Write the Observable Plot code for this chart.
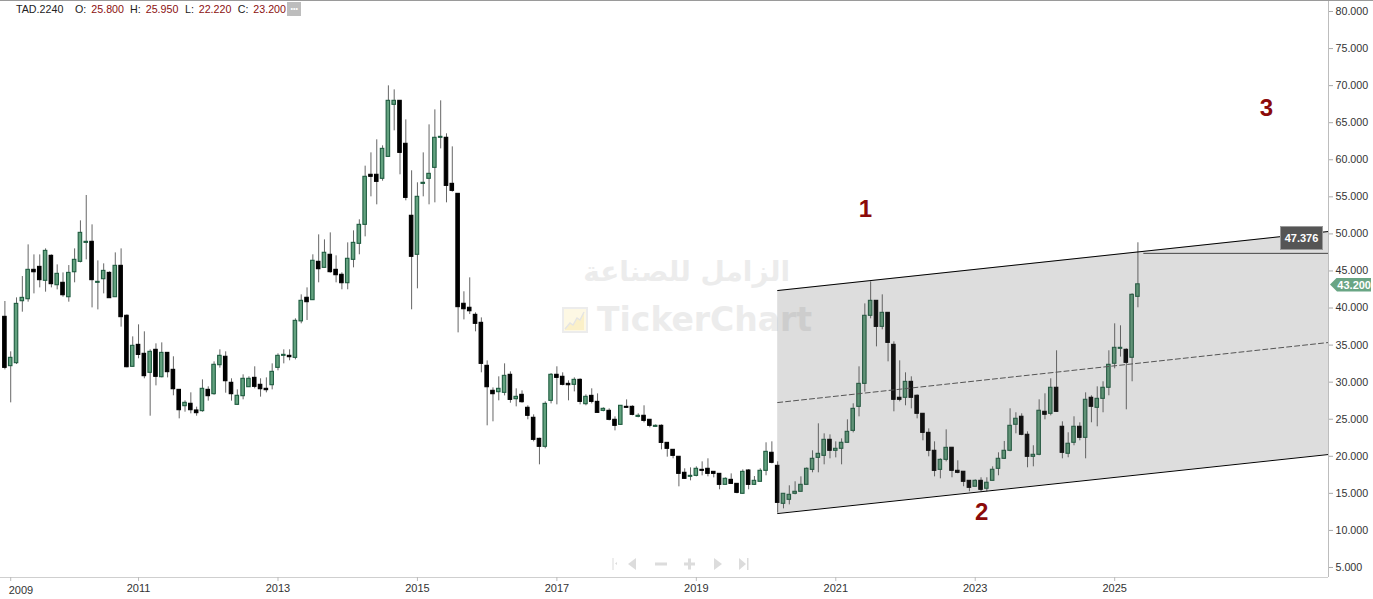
<!DOCTYPE html>
<html><head><meta charset="utf-8">
<script src="https://cdn.jsdelivr.net/npm/d3@7"></script>
<script src="https://cdn.jsdelivr.net/npm/@observablehq/plot@0.6"></script>
<style>
html,body{margin:0;padding:0;background:#fff;overflow:hidden;width:1373px;height:599px;font-family:"Liberation Sans",Arial,sans-serif}
#wrap{position:relative;width:1373px;height:599px}
#chart{position:absolute;left:0;top:0;z-index:1}
#chart svg{display:block;background:transparent;max-width:none}
.abs{position:absolute;white-space:nowrap}
.lg{top:3px;font-size:10.7px;line-height:12px;color:#222;z-index:2}
.lg.v{color:#8b1010}
.wm{color:#ececec;font-family:"DejaVu Sans",sans-serif;font-weight:700;z-index:0}
</style></head><body>
<div id="wrap">
<div class="abs" style="left:0;top:0;width:1373px;height:1px;background:#9a9a9a;z-index:3"></div>
<div class="abs wm" id="wmAr" style="left:585px;top:252px;width:205px;text-align:center;font-size:28px;line-height:40px;direction:rtl"></div>
<div class="abs wm" id="wmEn" style="left:597px;top:300px;font-size:33px;line-height:40px"></div>
<svg class="abs" style="left:562px;top:307px;z-index:0" width="26" height="26"><rect x="1" y="1" width="24" height="24" fill="#fdf8e4" stroke="#ececec" stroke-width="2"/><path d="M3 22L8 16L11 18L15 11L18 13L22 5L22 23L3 23Z" fill="#fbf0c8"/><path d="M3 22L8 16L11 18L15 11L18 13L22 5" fill="none" stroke="#e4e4e4" stroke-width="1.4"/></svg>
<svg class="abs" style="left:608px;top:556px;z-index:2" width="146" height="16">
<g fill="#dcdcdc"><rect x="4.5" y="2" width="1" height="12"/><path d="M7 7.5L9 6V9Z"/><path d="M20 8L28 2V14Z"/><rect x="47" y="6.5" width="12" height="3"/><rect x="76" y="6.5" width="11" height="3"/><rect x="80" y="2.5" width="3" height="11"/><path d="M106 2L114 8L106 14Z"/><path d="M131 2L138 8L131 14Z"/><rect x="139" y="2" width="1.5" height="12"/></g></svg>
<div id="chart"></div>
</div>
<script>
const opens=[38.81,32.16,32.56,40.92,41.19,45.15,45.55,43.67,47.04,43.08,
43.40,41.46,44.83,46.23,48.79,48.93,43.40,43.89,44.74,41.46,
45.69,38.95,32.07,35.03,33.82,31.26,34.36,30.67,33.95,31.66,
28.96,26.76,27.08,26.18,26.09,28.96,28.38,32.29,33.42,29.91,
26.94,28.11,29.32,30.58,29.64,29.10,29.59,31.93,33.55,33.55,
33.28,38.20,41.38,41.06,46.23,45.42,47.18,45.15,44.48,43.35,
46.50,48.66,51.22,57.97,57.97,57.43,60.39,67.41,67.95,62.15,
52.44,47.18,56.75,57.43,58.91,62.96,62.96,56.75,55.40,40.57,
40.03,39.08,38.00,32.20,28.83,28.65,28.56,30.99,27.70,28.29,
26.54,25.19,22.35,21.28,27.48,30.99,30.72,29.77,29.64,30.31,
27.03,28.15,27.34,26.13,26.13,24.92,24.24,26.67,26.67,25.32,
25.46,24.92,23.97,24.11,21.81,20.87,19.93,17.77,17.23,17.36,
18.17,18.31,17.90,17.63,16.15,16.82,16.28,14.94,18.08,16.15,
16.56,18.04,20.47,18.71,13.59,14.13,14.94,15.21,16.15,18.17,
19.79,20.06,22.22,20.74,21.01,21.82,23.43,26.67,29.77,38.95,
40.97,37.46,39.35,35.03,27.89,27.89,30.04,28.16,25.73,23.16,
20.74,18.17,19.52,21.15,18.04,17.91,16.69,15.89,16.69,15.62,
16.69,18.31,19.66,20.74,24.25,25.33,22.90,19.93,20.20,26.00,
25.73,29.24,23.98,20.34,21.82,23.98,22.49,27.89,26.54,27.75,
29.24,32.48,34.50,34.36,33.29,41.51];
const closes=[31.93,33.28,40.56,41.37,45.15,44.83,43.76,47.71,43.22,44.61,
41.73,44.74,46.50,50.14,48.93,43.76,43.53,45.01,41.33,45.69,
38.77,32.02,34.90,33.68,30.81,34.09,30.72,33.95,31.35,29.05,
26.22,27.21,26.22,25.82,29.10,28.11,32.34,33.55,30.13,28.38,
28.16,30.45,30.45,29.37,29.05,28.92,31.39,33.55,33.68,33.37,
38.27,40.97,40.79,46.37,45.24,47.45,44.84,44.43,43.35,46.64,
48.79,51.22,57.70,57.70,57.02,61.47,67.95,67.95,60.93,54.86,
46.91,55.00,56.89,58.10,62.96,63.09,56.48,55.81,40.12,39.84,
39.57,37.87,32.47,29.32,28.38,29.10,30.85,27.61,28.02,27.30,
25.46,22.22,21.28,27.07,30.99,30.58,29.64,29.59,30.31,27.34,
28.02,27.34,25.86,26.40,24.92,24.11,26.81,26.54,25.59,25.46,
24.78,24.11,24.11,21.81,21.01,20.06,17.63,16.96,17.36,18.31,
18.04,17.63,17.63,16.15,16.96,16.28,15.07,17.90,16.15,16.69,
18.04,20.60,19.12,13.72,14.94,14.80,15.21,16.15,18.31,19.66,
20.33,22.22,20.74,21.01,21.82,23.30,26.40,29.77,38.95,40.97,
37.46,39.35,35.30,27.62,27.62,30.04,27.89,25.73,23.16,20.74,
18.04,19.52,21.14,18.04,17.77,16.56,15.75,16.69,15.48,16.43,
18.18,19.66,20.74,24.11,25.06,22.90,19.93,20.20,26.14,25.60,
29.24,26.00,20.47,21.69,23.98,22.49,27.62,26.68,27.75,29.24,
32.34,34.63,34.63,32.61,41.78,43.20];
const highs=[40.88,34.09,41.37,44.25,48.52,47.17,47.17,47.98,47.17,45.82,
44.74,45.73,47.98,51.76,55.18,51.22,46.36,45.96,44.88,47.44,
47.98,39.08,36.11,37.73,36.79,34.36,35.17,35.30,33.95,33.42,
28.96,27.48,28.56,26.63,30.31,29.37,32.74,34.36,34.09,30.45,
28.96,30.99,30.72,32.07,30.45,30.58,32.47,33.82,34.36,34.36,
38.54,41.78,42.72,47.18,49.87,49.20,50.14,47.04,44.75,48.79,
50.41,51.90,59.14,60.93,62.69,61.88,69.97,69.43,67.95,65.38,
58.51,56.89,60.93,64.71,66.73,67.95,63.50,61.74,55.40,42.19,
44.07,39.35,38.67,32.87,29.23,30.72,32.47,31.39,29.10,28.83,
26.81,25.59,22.44,27.34,31.17,32.07,31.26,30.18,30.58,30.45,
28.29,29.10,28.42,26.54,26.40,25.32,26.81,27.61,26.81,25.73,
26.81,24.92,24.24,24.24,21.81,20.87,19.93,18.31,18.44,18.58,
19.25,19.66,17.90,17.63,17.09,17.63,16.28,18.17,18.20,17.27,
18.31,21.82,21.95,19.25,14.94,16.02,16.56,17.23,18.44,20.74,
24.38,23.03,22.89,21.95,22.35,24.92,27.08,32.07,40.56,43.53,
40.97,41.78,39.35,35.44,32.88,31.26,30.72,28.29,25.73,23.70,
21.95,19.66,23.57,21.15,19.39,17.91,16.69,16.83,17.10,17.10,
18.58,20.47,22.00,26.41,25.87,25.73,23.30,21.42,27.62,28.43,
30.45,34.23,24.65,23.17,25.33,24.52,28.56,28.16,29.37,30.05,
34.23,37.87,37.60,34.50,41.92,48.80];
const lows=[31.66,27.21,32.38,39.44,40.79,41.91,42.72,42.14,42.72,42.45,
41.46,40.79,43.40,46.09,46.50,40.02,39.75,41.91,41.33,41.46,
37.42,31.93,32.07,33.15,30.45,25.41,29.50,30.58,30.58,28.16,
25.05,25.95,25.73,25.41,25.95,27.44,28.24,31.89,28.51,27.44,
26.90,27.62,29.32,29.10,27.98,28.56,28.96,31.53,32.47,32.88,
33.01,37.87,38.32,41.02,43.40,45.42,44.70,43.40,42.46,42.46,
45.42,47.18,49.60,55.00,53.92,57.11,60.39,63.90,57.97,54.46,
39.76,42.59,55.00,53.92,54.19,61.47,54.19,55.63,36.65,38.40,
39.12,36.79,31.26,24.11,24.65,27.48,28.15,27.16,26.67,27.16,
24.92,21.95,18.85,21.01,27.07,26.94,29.50,27.48,28.69,26.94,
26.81,27.07,25.82,26.00,24.78,23.43,24.20,26.45,25.46,25.19,
24.51,23.84,23.88,20.87,19.88,19.66,15.88,16.87,16.69,17.23,
17.36,17.23,17.09,15.48,16.15,16.24,14.94,14.90,15.48,16.06,
16.56,17.37,18.98,12.33,12.91,13.45,14.80,15.21,16.15,17.77,
17.77,18.85,19.66,19.79,18.85,21.82,23.16,25.32,28.65,38.54,
34.76,37.06,32.74,26.00,27.35,26.81,26.40,25.05,22.09,19.93,
17.23,16.96,19.25,17.10,17.64,15.89,15.21,15.89,15.21,15.21,
16.69,17.37,19.57,20.61,23.03,22.77,18.45,18.58,20.07,24.92,
25.46,25.91,19.66,19.80,21.42,22.09,19.66,24.52,23.98,25.87,
28.16,31.80,33.38,26.27,30.05,40.03];

const channelX=[133,227.8];
const channelUpper=[42.36,50.32];
const channelMiddle=[27.25,35.35];
const channelLower=[12.28,20.24];
const levelX=[196,227.8];
const levelValue=47.376;
const lastClose=43.2;

const yTicks=[5,10,15,20,25,30,35,40,45,50,55,60,65,70,75,80];
const xTickIndex=[1,23,47,71,95,119,143,167,191];
const xTickLabels=["2009","2011","2013","2015","2017","2019","2021","2023","2025"];
const noteLabels=["1","2","3"];
const noteX=[148.1,168.1,217.1];
const noteY=[53.29,12.42,66.9];

const ticker="TAD.2240";
const legendItems=[["O:","25.800"],["H:","25.950"],["L:","22.220"],["C:","23.200"]];

const candles=opens.map((o,i)=>({i,o,c:closes[i],h:highs[i],l:lows[i],up:closes[i]>=o}));
const channel=channelX.map((x,k)=>({x,up:channelUpper[k],mid:channelMiddle[k],lo:channelLower[k]}));
const notes=noteLabels.map((t,k)=>({t,x:noteX[k],y:noteY[k]}));
const GREEN="#63a27f",GREEN_EDGE="#1f5c40";

const chart=Plot.plot({
  width:1373,height:599,
  marginLeft:0,marginRight:45,marginTop:0,marginBottom:22,
  style:{background:"transparent",fontFamily:'"Liberation Sans",Arial,sans-serif',fontSize:"10.7px",color:"#333"},
  x:{type:"linear",domain:[-0.757,227.8]},
  y:{type:"linear",domain:[3.65,81.484]},
  marks:[
    Plot.ruleX(candles,{x:"i",y1:"l",y2:"h",stroke:"#666",strokeWidth:1}),
    Plot.rect(candles,{x1:d=>d.i-0.3,x2:d=>d.i+0.3,y1:"o",y2:"c",
      fill:d=>d.up?GREEN:"#000",stroke:d=>d.up?GREEN_EDGE:"#000",strokeWidth:1.1}),
    Plot.area(channel,{x1:"x",y1:"lo",y2:"up",fill:"#535353",fillOpacity:0.2}),
    Plot.line(channel,{x:"x",y:"up",stroke:"#000",strokeWidth:1}),
    Plot.line(channel,{x:"x",y:"lo",stroke:"#000",strokeWidth:1}),
    Plot.line(channel,{x:"x",y:"mid",stroke:"#555",strokeWidth:1,strokeDasharray:"5,3"}),
    Plot.line(levelX.map(x=>({x,y:levelValue})),{x:"x",y:"y",stroke:"#444",strokeWidth:1}),
    Plot.text(notes,{x:"x",y:"y",text:"t",fill:"#8b0a0a",fontWeight:"bold",fontSize:24}),
    Plot.ruleX([227.8],{stroke:"#bdbdbd"}),
    Plot.ruleY([3.65],{stroke:"#cfcfcf"}),
    Plot.axisY({anchor:"right",ticks:yTicks,tickFormat:d=>d.toFixed(3),tickSize:4,tickPadding:3,stroke:"#aaa",label:null,fill:"#333"}),
    Plot.axisX({ticks:xTickIndex,tickFormat:d=>d===1?"":xTickLabels[xTickIndex.indexOf(d)],tickSize:4,tickPadding:3,stroke:"#bbb",label:null,fill:"#333",fontSize:11}),
    Plot.text([xTickIndex[0]],{x:d=>d,frameAnchor:"bottom",dy:16,dx:-2,textAnchor:"start",text:()=>xTickLabels[0],fill:"#333",fontSize:11})
  ]
});
document.getElementById("chart").append(chart);

const wrap=document.getElementById("wrap");
document.getElementById("wmAr").textContent="الزامل للصناعة";
document.getElementById("wmEn").textContent="TickerChart";
function add(cls,left,text,style){const e=document.createElement("div");e.className="abs "+cls;e.style.left=left+"px";e.textContent=text;if(style)e.style.cssText+=style;wrap.append(e);return e;}
add("lg",16,ticker);
const lbX=[75,130,185,237.7],valX=[91.3,145.7,198.7,253.3];
legendItems.forEach(([a,b],k)=>{add("lg",lbX[k],a);add("lg v",valX[k],b);});
add("",287.3,"•••","top:2px;width:14px;height:14px;background:#bdbdbd;color:#fff;font-size:7px;line-height:14px;text-align:center;z-index:2");
add("",1280,levelValue.toFixed(3),"top:225.5px;width:41px;height:22px;background:#555;border:1px solid #999;color:#fff;font-size:11px;font-weight:700;line-height:22px;text-align:center;z-index:2");
add("",1330,lastClose.toFixed(3),"top:277.5px;width:41px;height:14px;background:#69a584;color:#fff;font-size:11px;font-weight:700;line-height:14px;text-align:right;z-index:2;clip-path:polygon(0 50%,7px 0,100% 0,100% 100%,7px 100%)");
</script>
</body></html>
